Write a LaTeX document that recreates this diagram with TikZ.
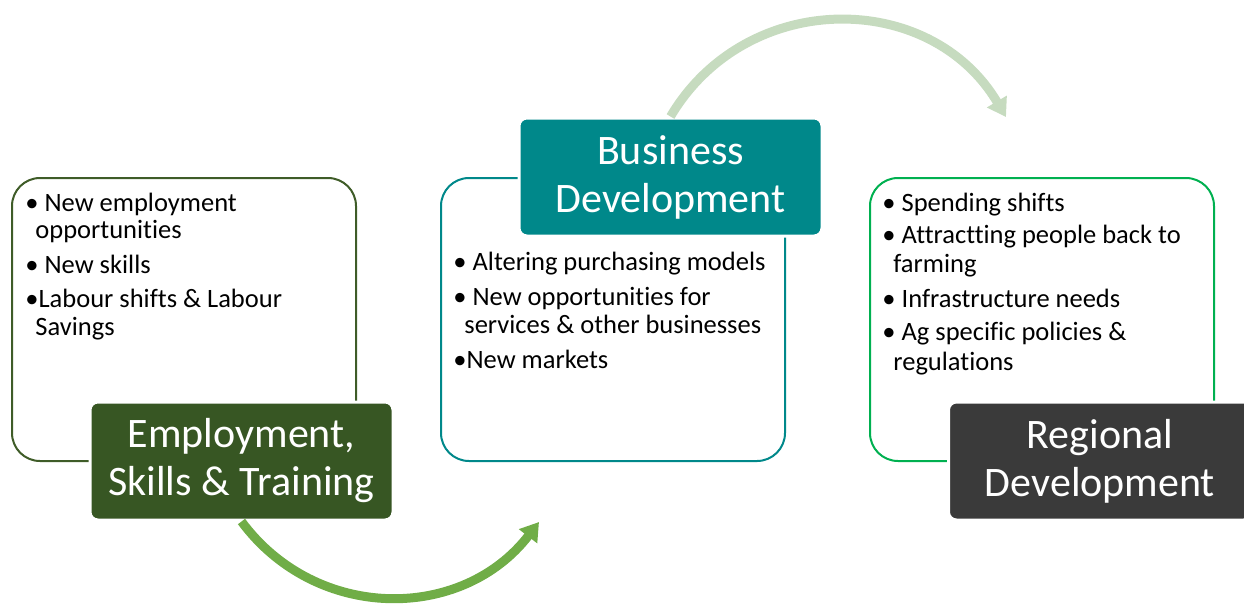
\documentclass[tikz,border=0pt]{standalone}
\usepackage{fontspec}
\setmainfont[Ligatures=NoCommon]{Carlito}
\usetikzlibrary{arrows.meta, positioning}

\definecolor{estgreen}{HTML}{375623}
\definecolor{estline}{HTML}{3F5C28}
\definecolor{bdteal}{HTML}{00888A}
\definecolor{rdgrey}{HTML}{3A3A3A}
\definecolor{rdline}{HTML}{00B050}
\definecolor{flowdark}{HTML}{70AD47}
\definecolor{flowlight}{HTML}{C6DBBF}

\begin{document}
\begin{tikzpicture}[x=0.5pt, y=-0.5pt, font=\fontsize{13.25}{14}\selectfont,
  outline/.style={draw, line width=1pt, rounded corners=14pt,
    minimum width=172pt, minimum height=141.5pt},
  heading/.style={draw=white, line width=1.5pt, rounded corners=4pt, text=white,
    minimum width=151.5pt, minimum height=59pt, align=center,
    font=\fontsize{21}{24}\selectfont},
  item/.style={anchor=base west, inner sep=0pt},
  flow/.style={line width=4.5pt, -{Triangle[width=11pt, length=9pt]}}]
  \useasboundingbox (0,0) rectangle (1244,607);

  % outline boxes
  \node[outline, draw=estline] (est-box) at (184,319.5) {};
  \node[outline, draw=bdteal]  (bd-box)  at (613,319.5) {};
  \node[outline, draw=rdline]  (rd-box)  at (1042,319.5) {};

  % bullet lists
  \foreach \X/\Y/\T [count=\i] in {25/211/{• New employment},
                                   35/238/{opportunities},
                                   25/273/{• New skills},
                                   25/307/{•Labour shifts \& Labour},
                                   35/335/{Savings}
  } {
  \node[item](est-item\i) at (\X,\Y) {\T};
  }
  \foreach \X/\Y/\T [count=\i] in {453/270/{• Altering purchasing models},
                                   453/305/{• New opportunities for},
                                   464/333/{services \& other businesses},
                                   453/368/{•New markets}
  } {
  \node[item](bd-item\i) at (\X,\Y) {\T};
  }
  \foreach \X/\Y/\T [count=\i] in {882/211/{• Spending shifts},
                                   882/243/{• Attractting people back to},
                                   893/272/{farming},
                                   882/307/{• Infrastructure needs},
                                   882/340/{• Ag specific policies \&},
                                   893/370/{regulations}
  } {
  \node[item](rd-item\i) at (\X,\Y) {\T};
  }

  % headings
  \node[heading, fill=estgreen] (est) at (241.5,461) {Employment,\\Skills \& Training};
  \node[heading, fill=bdteal]   (bd)  at (670.5,177) {Business\\Development};
  \node[heading, fill=rdgrey]   (rd)  at (1100,461)  {Regional\\Development};

  % curved arrows
  \coordinate (bd-in) at (539,522);
  \coordinate (rd-in) at (1006,117);
  \draw[flow, flowdark] (est.south) .. controls (316,622) and (462,622) .. (bd-in);
  \draw[flow, flowlight] (bd.north) .. controls (746,-11) and (930,-11) .. (rd-in);
\end{tikzpicture}
\end{document}
